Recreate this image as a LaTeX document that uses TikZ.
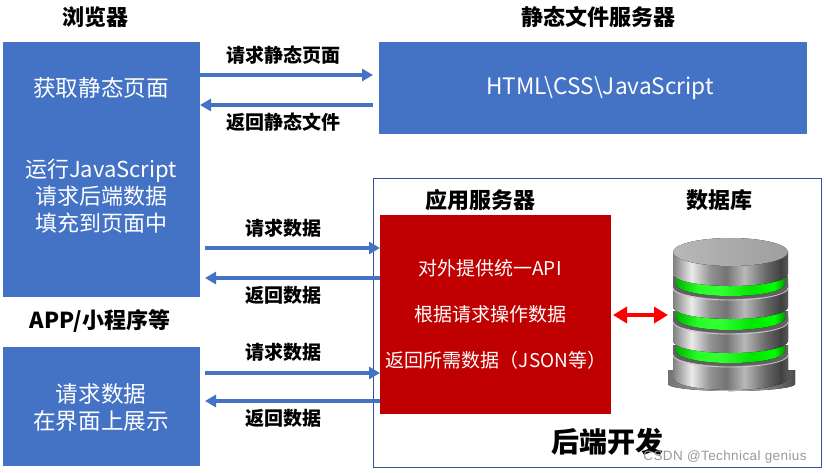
\documentclass[tikz,border=0pt]{standalone}
\usepackage{fontspec}
\setmainfont{Noto Sans CJK SC}
\newfontfamily\wmfont[LetterSpace=3]{Liberation Sans}
\usetikzlibrary{arrows.meta,shadings}
\definecolor{bluefill}{HTML}{4472C4}
\definecolor{redfill}{HTML}{C00000}
\definecolor{framecol}{HTML}{2F5597}
\pgfdeclarehorizontalshading{metal}{100bp}{
  color(0bp)=(black!50);color(25bp)=(black!50);color(33bp)=(black!8);color(41bp)=(black!42);color(48bp)=(black!55);color(56bp)=(black!28);color(65bp)=(black!58);color(72bp)=(black!75);color(75bp)=(black!65);color(100bp)=(black!65)}
\pgfdeclarehorizontalshading{glow}{100bp}{
  color(0bp)=(green!70!black);color(25bp)=(green!70!black);color(35bp)=(green!85!white);color(45bp)=(green!80!white);color(60bp)=(green!90!black);color(70bp)=(green);color(75bp)=(green!60!black);color(100bp)=(green!60!black)}
\tikzset{
  x=1pt,y=-1pt,
  bluebox/.style={fill=bluefill,draw=none,inner sep=0pt},
  boxtext/.style={text=white,font=\fontsize{22.6}{27}\selectfont,align=center,inner sep=0pt},
  head/.style={font=\fontsize{22}{25}\selectfont\bfseries,inner sep=0pt},
  lab/.style={font=\fontsize{19}{22}\selectfont\bfseries,inner sep=0pt},
  flow/.style={draw=bluefill,line width=3.6pt,-{Triangle[length=11pt,width=12pt]}},
  redtext/.style={text=white,font=\fontsize{19}{22}\selectfont,inner sep=0pt},
  rimline/.style={draw=black!22,line width=0.9pt},
  metalwall/.style={shading=metal},
  glowband/.style={shading=glow},
  darkband/.style={fill=black!62},
}
\begin{document}
\begin{tikzpicture}
\useasboundingbox (0,0) rectangle (826,472);
\fill[white] (0,0) rectangle (826,472);

% boxes
\path[bluebox] (3,42) rectangle (200,297);
\coordinate (browserE1) at (200,75);
\coordinate (browserE2) at (200,105);
\coordinate (browserE3) at (205,248);
\coordinate (browserE4) at (205,278);
\path[bluebox] (3,347) rectangle (200,466);
\coordinate (appE1) at (205,373);
\coordinate (appE2) at (205,401);
\path[bluebox] (379,42) rectangle (807,134);
\coordinate (staticW1) at (373,75);
\coordinate (staticW2) at (373,105);
\draw[framecol,line width=1pt] (373,178) rectangle (821,467);
\fill[redfill] (380,215) rectangle (611,414);
\coordinate (redW1) at (380,248);
\coordinate (redW2) at (380,278);
\coordinate (redW3) at (380,373);
\coordinate (redW4) at (380,401);

% headings
\node[head] (h1) at (95,17) {浏览器};
\node[head] (h2) at (598,17) {静态文件服务器};
\node[head] (h3) at (480,200) {应用服务器};
\node[head] (h4) at (719,200) {数据库};
\node[head] (h5) at (100,321) {APP/小程序等};
\node[font=\fontsize{28}{32}\selectfont\bfseries,inner sep=0pt] (h6) at (607,442) {后端开发};

% box text
\node[boxtext] (t1) at (101,88) {获取静态页面};
\node[boxtext,font=\fontsize{22}{27}\selectfont] (t2) at (101,196) {运行JavaScript\\请求后端数据\\填充到页面中};
\node[boxtext] (t3) at (101,407) {请求数据\\在界面上展示};
\node[boxtext] (t4) at (600,88) {HTML\textbackslash CSS\textbackslash JavaScript};
\node[redtext] (r1) at (490,268) {对外提供统一API};
\node[redtext] (r2) at (490,314) {根据请求操作数据};
\node[redtext] (r3) at (496,360) {返回所需数据（JSON等）};

% arrows
\draw[flow] (browserE1) -- (staticW1);
\draw[flow] (staticW2) -- (browserE2);
\draw[flow] (browserE3) -- (redW1);
\draw[flow] (redW2) -- (browserE4);
\draw[flow] (appE1) -- (redW3);
\draw[flow] (redW4) -- (appE2);

% arrow labels
\node[lab] (l1) at (283,55) {请求静态页面};
\node[lab] (l2) at (283,122) {返回静态文件};
\node[lab] (l3) at (283,228) {请求数据};
\node[lab] (l4) at (283,295) {返回数据};
\node[lab] (l5) at (283,352) {请求数据};
\node[lab] (l6) at (283,418) {返回数据};

% database
\fill[left color=black!55,right color=black!70,middle color=black!25] (668,370) -- (795,370) -- (795,384) arc[x radius=63.5,y radius=7,start angle=0,end angle=180] -- cycle;
\fill[metalwall] (673,354) -- (788,354) -- (788,378) arc[x radius=57.5,y radius=12,start angle=0,end angle=180] -- cycle;
\fill[darkband] (673,345) -- (788,345) -- (788,354) arc[x radius=57.5,y radius=12,start angle=0,end angle=180] -- cycle;
\draw[rimline] (788,355) arc[x radius=57.5,y radius=12,start angle=0,end angle=180];
\fill[glowband] (676,340) -- (785,340) -- (785,351) arc[x radius=54.5,y radius=12,start angle=0,end angle=180] -- cycle;
\fill[metalwall] (673,317) -- (788,317) -- (788,341) arc[x radius=57.5,y radius=12,start angle=0,end angle=180] -- cycle;
\fill[darkband] (673,311) -- (788,311) -- (788,321) arc[x radius=57.5,y radius=12,start angle=0,end angle=180] -- cycle;
\draw[rimline] (788,322) arc[x radius=57.5,y radius=12,start angle=0,end angle=180];
\fill[glowband] (676,308) -- (785,308) -- (785,318) arc[x radius=54.5,y radius=12,start angle=0,end angle=180] -- cycle;
\fill[metalwall] (673,284) -- (788,284) -- (788,307) arc[x radius=57.5,y radius=12,start angle=0,end angle=180] -- cycle;
\fill[darkband] (673,276) -- (788,276) -- (788,287) arc[x radius=57.5,y radius=12,start angle=0,end angle=180] -- cycle;
\draw[rimline] (788,288) arc[x radius=57.5,y radius=12,start angle=0,end angle=180];
\fill[glowband] (676,272) -- (785,272) -- (785,284) arc[x radius=54.5,y radius=12,start angle=0,end angle=180] -- cycle;
\fill[metalwall] (673,252) -- (788,252) -- (788,274) arc[x radius=57.5,y radius=12,start angle=0,end angle=180] -- cycle;
\fill[left color=black!28,right color=black!38] (730.5,252) ellipse[x radius=57.5,y radius=14];

% red arrow
\coordinate (redE) at (613,315);
\coordinate (dbW) at (668,315);
\draw[red,line width=4pt,{Triangle[length=14pt,width=16pt]}-{Triangle[length=14pt,width=16pt]}] (redE) -- (dbW);

% watermark
\node[text=black!40,font=\wmfont\fontsize{13.5}{15}\selectfont,inner sep=0pt] (wm) at (725,457) {CSDN @Technical genius};
\end{tikzpicture}
\end{document}
